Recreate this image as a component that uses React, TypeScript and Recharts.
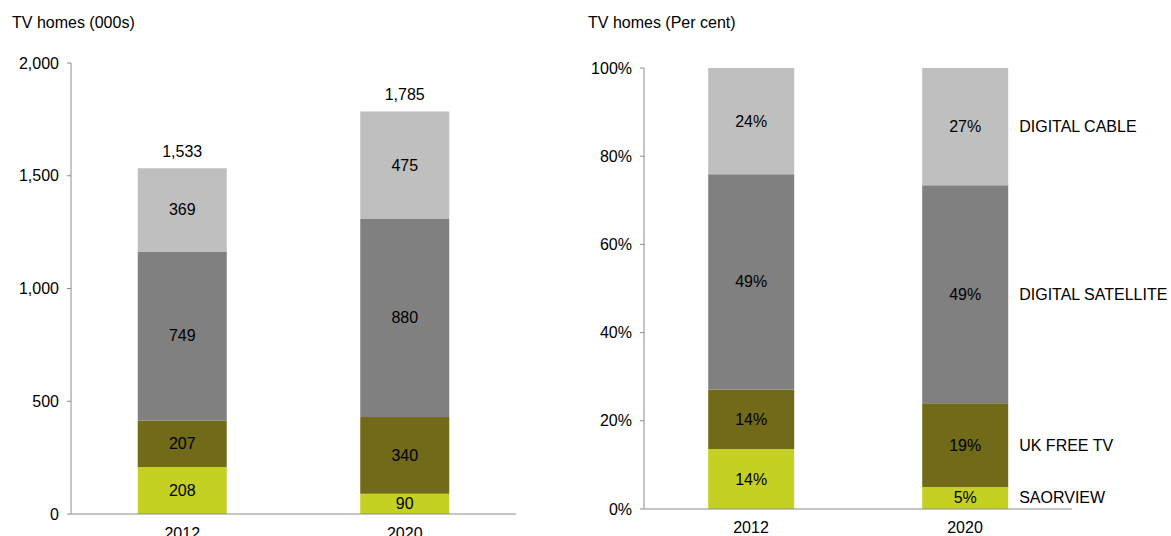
import React from 'react';
import { BarChart, Bar, XAxis, YAxis, LabelList } from 'recharts';

const years = ['2012', '2020'];
const saorview = [208, 90];
const ukFreeTv = [207, 340];
const digitalSatellite = [749, 880];
const digitalCable = [369, 475];
const totals = [1533, 1785];

const saorviewPct = [13.6, 5.0];
const ukFreeTvPct = [13.5, 19.0];
const digitalSatellitePct = [48.8, 49.4];
const digitalCablePct = [24.1, 26.6];

const seriesNames = ['SAORVIEW', 'UK FREE TV', 'DIGITAL SATELLITE', 'DIGITAL CABLE'];
const leftTicks = [0, 500, 1000, 1500, 2000];
const rightTicks = [0, 20, 40, 60, 80, 100];

const colors = ['#c4d022', '#716a19', '#808080', '#bfbfbf'];
const FONT = '"Liberation Sans", Arial, sans-serif';
const AXIS = '#8c8c8c';

const leftData = years.map((y, i) => ({
  year: y,
  s0: saorview[i],
  s1: ukFreeTv[i],
  s2: digitalSatellite[i],
  s3: digitalCable[i],
}));

const rightData = years.map((y, i) => ({
  year: y,
  s0: saorviewPct[i],
  s1: ukFreeTvPct[i],
  s2: digitalSatellitePct[i],
  s3: digitalCablePct[i],
}));

const fmtThousands = (v: number) => v.toLocaleString('en-US');

const centerLabel = (fmt: (v: number) => string) => (p: any) => {
  const { x, y, width, height, value } = p;
  return (
    <text x={x + width / 2} y={y + height / 2} textAnchor="middle" dominantBaseline="central"
      fontSize={16} fontFamily={FONT} fill="#000">
      {fmt(Number(value))}
    </text>
  );
};

const totalLabel = (p: any) => {
  const { x, y, width, index } = p;
  return (
    <text x={x + width / 2} y={y - 17} textAnchor="middle" dominantBaseline="central"
      fontSize={16} fontFamily={FONT} fill="#000">
      {fmtThousands(totals[index])}
    </text>
  );
};

const nameLabel = (name: string) => (p: any) => {
  const { x, y, width, height, index } = p;
  if (index !== 1) return null;
  return (
    <text x={x + width + 11} y={y + height / 2} textAnchor="start" dominantBaseline="central"
      fontSize={16} fontFamily={FONT} fill="#000">
      {name}
    </text>
  );
};

const keys = ['s0', 's1', 's2', 's3'];

export default function App() {
  return (
    <div style={{ position: 'absolute', left: 0, top: 0, width: 1171, height: 536, background: '#fff', fontFamily: FONT }}>
      <div style={{ position: 'absolute', left: 12, top: 14, fontSize: 16, color: '#000' }}>TV homes (000s)</div>
      <div style={{ position: 'absolute', left: 588, top: 14, fontSize: 16, color: '#000' }}>TV homes (Per cent)</div>

      <div style={{ position: 'absolute', left: 0, top: 0 }}>
        <BarChart width={560} height={536} data={leftData} margin={{ top: 63, right: 44, bottom: 0, left: 0 }}
          barCategoryGap="30%">
          <XAxis xAxisId="edges" type="number" domain={[0, 2]} ticks={[0, 1, 2]} tick={false} height={0}
            axisLine={false} tickLine={{ stroke: AXIS }} tickSize={5} />
          <XAxis xAxisId="cat" dataKey="year" height={22} tickLine={false} axisLine={{ stroke: AXIS }}
            tickMargin={8} tick={{ fill: '#000', fontSize: 16, fontFamily: FONT }} />
          <YAxis domain={[0, 2000]} ticks={leftTicks} width={71} tickFormatter={fmtThousands}
            axisLine={{ stroke: AXIS }} tickLine={{ stroke: AXIS }} tickSize={4} tickMargin={8}
            tick={{ fill: '#000', fontSize: 16, fontFamily: FONT }} interval={0} />
          {keys.map((k, i) => (
            <Bar key={k} xAxisId="cat" dataKey={k} stackId="a" fill={colors[i]} isAnimationActive={false} name={seriesNames[i]}>
              <LabelList dataKey={k} content={centerLabel(fmtThousands)} />
              {i === 3 ? <LabelList dataKey={k} content={totalLabel} /> : null}
            </Bar>
          ))}
        </BarChart>
      </div>

      <div style={{ position: 'absolute', left: 560, top: 0 }}>
        <BarChart width={611} height={536} data={rightData} margin={{ top: 68, right: 99, bottom: 0, left: 0 }}
          barCategoryGap="30%">
          <XAxis xAxisId="edges" type="number" domain={[0, 2]} ticks={[0, 1, 2]} tick={false} height={0}
            axisLine={false} tickLine={{ stroke: AXIS }} tickSize={5} />
          <XAxis xAxisId="cat" dataKey="year" height={27} tickLine={false} axisLine={{ stroke: AXIS }}
            tickMargin={7} tick={{ fill: '#000', fontSize: 16, fontFamily: FONT }} />
          <YAxis domain={[0, 100]} ticks={rightTicks} width={84} tickFormatter={(v: number) => `${v}%`}
            axisLine={{ stroke: AXIS }} tickLine={{ stroke: AXIS }} tickSize={4} tickMargin={8}
            tick={{ fill: '#000', fontSize: 16, fontFamily: FONT }} interval={0} />
          {keys.map((k, i) => (
            <Bar key={k} xAxisId="cat" dataKey={k} stackId="a" fill={colors[i]} isAnimationActive={false} name={seriesNames[i]}>
              <LabelList dataKey={k} content={centerLabel((v) => `${Math.round(v)}%`)} />
              <LabelList dataKey={k} content={nameLabel(seriesNames[i])} />
            </Bar>
          ))}
        </BarChart>
      </div>
    </div>
  );
}
